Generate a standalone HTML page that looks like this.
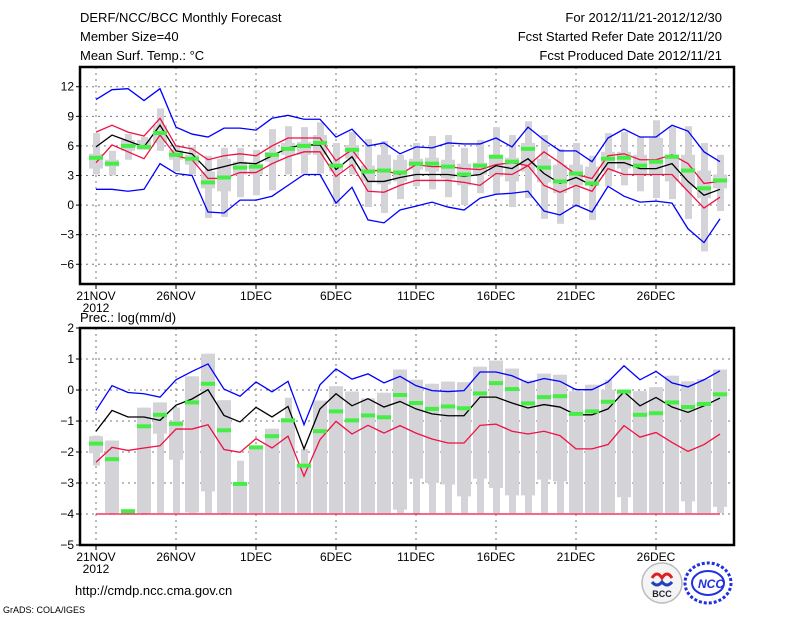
<!DOCTYPE html>
<html><head><meta charset="utf-8">
<style>
html,body{margin:0;padding:0;background:#fff;}
svg{display:block;font-family:"Liberation Sans",sans-serif;}
</style></head>
<body>
<svg id="chart" width="800" height="618" viewBox="0 0 800 618">
<text x="80" y="22" font-size="13">DERF/NCC/BCC Monthly Forecast</text>
<text x="80" y="41" font-size="13">Member Size=40</text>
<text x="80" y="60" font-size="13">Mean Surf. Temp.: °C</text>
<text x="722" y="22" font-size="13" text-anchor="end">For 2012/11/21-2012/12/30</text>
<text x="722" y="41" font-size="13" text-anchor="end">Fcst Started Refer Date 2012/11/20</text>
<text x="722" y="60" font-size="13" text-anchor="end">Fcst Produced Date 2012/11/21</text>
<text x="80" y="322" font-size="13">Prec.: log(mm/d)</text>
<text x="75" y="595" font-size="13">http://cmdp.ncc.cma.gov.cn</text>
<text x="3" y="613" font-size="9">GrADS: COLA/IGES</text>
<g>
<circle cx="662" cy="583" r="20" fill="#f4f4f4" stroke="#bbb" stroke-width="1.5"/>
<path d="M652 578 q5 -8 10 0 q5 -8 10 0" fill="none" stroke="#e02020" stroke-width="3"/>
<path d="M652 582 q5 6 10 0 q5 6 10 0" fill="none" stroke="#2040c0" stroke-width="3"/>
<text x="662" y="597" font-size="9" font-weight="bold" text-anchor="middle" fill="#223">BCC</text>
</g>
<g>
<ellipse cx="708" cy="583" rx="23" ry="20" fill="none" stroke="#2030e0" stroke-width="3" stroke-dasharray="3 2"/>
<ellipse cx="708" cy="583" rx="16" ry="12" fill="none" stroke="#2030e0" stroke-width="2"/>
<text x="711" y="588" font-size="12" font-weight="bold" font-style="italic" text-anchor="middle" fill="#2030e0">NCC</text>
</g>
</svg>
<script>
// ---- Temperature panel data (°C) ----
const tMax=[7.3,5.5,7.2,6.9,9.8,6.1,5.9,5.0,5.8,5.8,5.6,7.7,8.0,7.9,8.4,6.3,7.4,6.7,6.5,5.1,6.3,7.0,7.1,5.8,6.6,7.9,7.1,8.5,7.1,5.7,6.3,5.0,7.3,7.4,6.9,8.6,8.0,8.0,6.3,5.1];
const tQ3=[5.2,4.6,6.6,6.6,8.1,5.6,5.1,3.4,4.7,4.4,4.2,5.4,6.3,6.4,7.1,4.2,6.1,4.0,5.1,4.6,4.7,4.8,4.6,4.2,4.3,5.1,4.8,6.3,4.7,4.1,4.1,3.9,5.4,5.4,5.1,6.8,5.1,5.1,3.5,3.1];
const tQ1=[3.7,3.9,5.5,5.6,6.3,4.6,4.1,1.7,1.4,3.1,3.1,4.4,5.1,5.1,5.1,3.4,4.7,2.4,2.1,2.4,3.6,3.4,2.7,2.0,3.1,2.9,2.4,3.4,2.3,1.2,2.0,2.0,3.4,3.7,3.1,3.1,2.4,1.8,0.7,1.7];
const tMin=[3.1,3.0,4.6,5.6,5.5,3.4,3.1,-1.3,-1.2,0.8,1.0,1.5,3.1,3.2,3.2,0.1,3.1,-0.2,-0.8,0.6,1.9,1.6,0.8,0.0,1.2,1.1,-0.2,0.7,-1.4,-1.9,0.0,-1.5,1.9,2.0,1.4,0.7,0.6,-1.4,-4.7,-0.6];
const tBlueHi=[10.7,11.7,11.8,10.6,11.8,7.9,7.2,6.9,7.8,7.8,7.6,8.8,9.1,8.7,8.7,6.9,7.7,6.0,6.3,5.2,5.9,5.8,6.3,6.2,6.2,6.8,5.9,7.9,6.6,5.5,5.5,4.4,6.8,7.7,6.9,6.9,8.1,7.5,5.4,4.4];
const tBlueLo=[1.6,1.6,1.4,1.6,4.2,3.2,3.0,-0.7,-0.8,0.5,0.5,0.9,2.0,3.1,3.1,0.2,1.8,-1.5,-1.8,-0.5,-0.1,0.3,-0.2,-0.5,0.7,1.1,1.2,1.4,-0.6,-1.0,0.0,-0.7,1.9,0.9,0.3,0.4,0.2,-2.4,-3.8,-1.4];
const tRedHi=[7.4,8.1,7.4,7.0,8.8,6.0,5.7,4.6,5.0,5.2,5.0,6.0,6.8,6.8,6.8,4.5,5.6,3.5,3.5,3.1,4.1,3.9,3.9,3.7,3.6,4.1,4.3,4.0,5.4,4.3,3.1,2.7,5.0,5.2,4.6,4.6,5.1,4.2,2.2,2.4];
const tRedLo=[4.3,6.1,5.4,4.7,7.1,5.0,4.6,2.7,2.7,3.3,3.3,4.2,4.9,5.4,5.4,2.9,4.1,1.4,1.3,2.0,2.5,2.5,2.5,2.3,2.0,3.2,3.1,4.0,2.0,1.3,2.0,1.4,3.7,3.1,3.1,3.1,3.1,1.4,-0.3,0.8];
const tMean=[5.9,7.1,6.5,5.9,8.1,5.5,5.2,3.5,3.9,4.3,4.2,5.0,5.8,6.1,6.1,3.6,4.9,2.4,2.4,2.8,3.1,3.1,3.1,2.9,3.1,4.0,3.7,4.7,3.2,2.2,2.8,2.0,4.3,4.3,3.7,3.7,4.2,2.4,1.0,1.6];
const tObs=[4.8,4.2,6.0,5.9,7.3,5.1,4.7,2.3,2.8,3.8,3.9,5.1,5.7,6.0,6.3,4.0,5.6,3.4,3.5,3.3,4.2,4.2,3.9,3.1,4.0,4.9,4.4,5.7,3.8,2.4,3.2,2.2,4.7,4.8,4.0,4.4,4.9,3.5,1.7,2.5];
const tTicks=[12,9,6,3,0,-3,-6];
// ---- Precipitation panel data (log mm/d) ----
const pMax=[-1.47,-1.63,-3.95,-0.57,-0.4,-0.57,0.44,1.17,-0.33,-2.28,-1.8,-1.25,-0.25,-1.9,-0.34,0.12,-0.05,-0.27,-0.09,0.66,0.33,0.2,0.27,0.25,0.75,0.95,0.69,0.31,0.53,0.49,-0.04,0.17,0.33,0.01,-0.04,0.09,0.46,0.28,0.35,0.66];
const pQ3=[-1.49,-1.63,-3.95,-0.57,-0.4,-1.0,0.44,1.17,-0.33,-3.0,-1.8,-1.25,-0.9,-2.4,-0.34,0.12,-0.05,-0.27,-0.09,0.66,0.33,0.2,0.27,0.25,0.75,0.95,0.69,0.31,0.53,0.49,-0.04,0.17,0.01,0.01,-0.04,0.09,0.46,0.28,0.35,0.66];
const pQ1=[-2.04,-3.97,-3.95,-3.97,-1.41,-2.25,-3.95,-3.27,-3.97,-3.97,-3.97,-3.97,-3.97,-3.97,-3.97,-3.97,-3.97,-3.97,-3.97,-3.86,-2.86,-3.0,-3.05,-3.43,-2.86,-3.16,-3.4,-3.4,-2.89,-2.95,-3.97,-3.97,-3.97,-3.46,-3.97,-3.97,-3.97,-3.59,-3.97,-3.77];
const pMin=[-2.44,-4.0,-3.95,-4.0,-3.97,-3.97,-3.97,-3.97,-4.0,-3.97,-3.97,-3.97,-3.97,-3.97,-3.97,-3.97,-3.97,-3.97,-3.97,-3.97,-4.0,-3.97,-3.97,-3.97,-3.97,-3.97,-3.97,-3.97,-3.97,-3.97,-3.97,-3.97,-3.97,-3.97,-3.97,-3.97,-3.97,-3.97,-3.97,-3.97];
const pBlue=[-0.66,0.14,-0.08,-0.12,-0.23,0.33,0.6,0.84,0.03,-0.2,0.26,-0.06,0.28,-1.12,0.17,0.68,0.35,0.52,0.23,0.44,0.14,-0.02,-0.05,-0.02,0.58,0.58,0.46,0.23,0.37,0.28,0.01,0.01,0.26,0.78,0.33,0.6,0.23,0.1,0.33,0.62];
const pMean=[-1.33,-0.66,-0.87,-0.87,-0.98,-0.49,-0.29,0.01,-0.82,-1.03,-0.56,-0.87,-0.53,-1.9,-0.61,-0.12,-0.51,-0.28,-0.55,-0.37,-0.61,-0.77,-0.83,-0.83,-0.23,-0.23,-0.42,-0.58,-0.47,-0.55,-0.8,-0.8,-0.61,-0.06,-0.51,-0.24,-0.55,-0.72,-0.51,-0.26];
const pRed=[-2.33,-1.85,-1.95,-1.87,-1.8,-1.26,-1.26,-1.12,-1.92,-2.01,-1.57,-1.87,-1.49,-2.78,-1.6,-1.01,-1.42,-1.14,-1.39,-1.15,-1.39,-1.58,-1.71,-1.71,-1.14,-1.1,-1.33,-1.42,-1.33,-1.47,-1.9,-1.9,-1.76,-1.15,-1.52,-1.37,-1.69,-1.98,-1.76,-1.42];
const pObs=[-1.73,-2.23,-3.91,-1.17,-0.8,-1.09,-0.4,0.2,-1.3,-3.03,-1.85,-1.49,-0.98,-2.44,-1.33,-0.69,-0.98,-0.82,-0.88,-0.16,-0.42,-0.61,-0.53,-0.59,-0.11,0.22,0.03,-0.43,-0.23,-0.2,-0.77,-0.69,-0.38,-0.05,-0.8,-0.75,-0.4,-0.55,-0.45,-0.14];
const pTicks=[2,1,0,-1,-2,-3,-4,-5];
const dateLabels=["21NOV","26NOV","1DEC","6DEC","11DEC","16DEC","21DEC","26DEC"];
const dateIdx=[0,5,10,15,20,25,30,35];

const NS="http://www.w3.org/2000/svg";
const svg=document.getElementById('chart');
const X0=80,X1=734;
function xs(i){return 96+i*16;}
function mk(tag,attrs,parent){const e=document.createElementNS(NS,tag);for(const k in attrs)e.setAttribute(k,attrs[k]);(parent||svg).appendChild(e);return e;}

function panel(name,top,bot,vmax,vmin,ticks,d){
  const ys=v=>top+(vmax-v)*(bot-top)/(vmax-vmin);
  const g=mk('g',{});
  
  
  // grid
  ticks.forEach(t=>{
    const l=mk('line',{x1:X0,x2:X1,y1:ys(t),y2:ys(t),stroke:'#777','stroke-width':1,'stroke-dasharray':'2 4'},g);
    
    
    const tk=mk('line',{x1:X0-4,x2:X0,y1:ys(t),y2:ys(t),stroke:'#000'},g);
    
    
    const tx=mk('text',{x:X0-6,y:ys(t)+4,'font-size':12,'text-anchor':'end'},g);
    tx.textContent=(t<0?'\u2212'+(-t):t);
    
    
  });
  dateIdx.forEach((di,k)=>{
    const l=mk('line',{x1:xs(di),x2:xs(di),y1:top,y2:bot,stroke:'#777','stroke-dasharray':'2 4'},g);
    
    
    const tk=mk('line',{x1:xs(di),x2:xs(di),y1:bot,y2:bot+5,stroke:'#000'},g);
    
    
    const tx=mk('text',{x:xs(di),y:bot+16,'font-size':12,'text-anchor':'middle'},g);
    tx.textContent=dateLabels[k];
    
    
  });
  const yr=mk('text',{x:xs(0),y:bot+28,'font-size':12,'text-anchor':'middle'},g);
  yr.textContent='2012';
  
  
  // boxes
  for(let i=0;i<d.max.length;i++){
    const a=mk('rect',{x:xs(i)-3,width:7,y:ys(d.max[i]),height:Math.max(1,ys(d.min[i])-ys(d.max[i])),fill:'#d4d4d8'},g);
    
    
    const b=mk('rect',{x:xs(i)-7,width:14,y:ys(d.q3[i]),height:Math.max(1,ys(d.q1[i])-ys(d.q3[i])),fill:'#d4d4d8'},g);
    
    
  }
  d.lines.forEach(([arr,col,nm])=>{
    const p=mk('polyline',{points:arr.map((v,i)=>xs(i)+','+ys(v)).join(' '),fill:'none',stroke:col,'stroke-width':1.3},g);
    
    
  });
  d.obs.forEach((v,i)=>{
    const r=mk('rect',{x:xs(i)-7,width:14,y:ys(v)-2,height:4,fill:'#44ee44'},g);
    
    
  });
  const fr=mk('rect',{x:X0,y:top,width:X1-X0,height:bot-top,fill:'none',stroke:'#000','stroke-width':2.5},g);
  
  
  return ys;
}
panel('temperature-panel',67,284,14,-8,tTicks,{max:tMax,q3:tQ3,q1:tQ1,min:tMin,obs:tObs,
  lines:[[tBlueHi,'#0000ff','blue-upper-line'],[tBlueLo,'#0000ff','blue-lower-line'],[tRedHi,'#ee1144','red-upper-line'],[tRedLo,'#ee1144','red-lower-line'],[tMean,'#000','ensemble-mean-line']]});
const pFloor=pMean.map(()=>-4);
panel('precipitation-panel',328,545,2,-5,pTicks,{max:pMax,q3:pQ3,q1:pQ1,min:pMin,obs:pObs,
  lines:[[pFloor,'#ee1144','red-floor-line'],[pBlue,'#0000ff','blue-upper-line'],[pRed,'#ee1144','red-lower-line'],[pMean,'#000','ensemble-mean-line']]});
</script>
</body></html>
